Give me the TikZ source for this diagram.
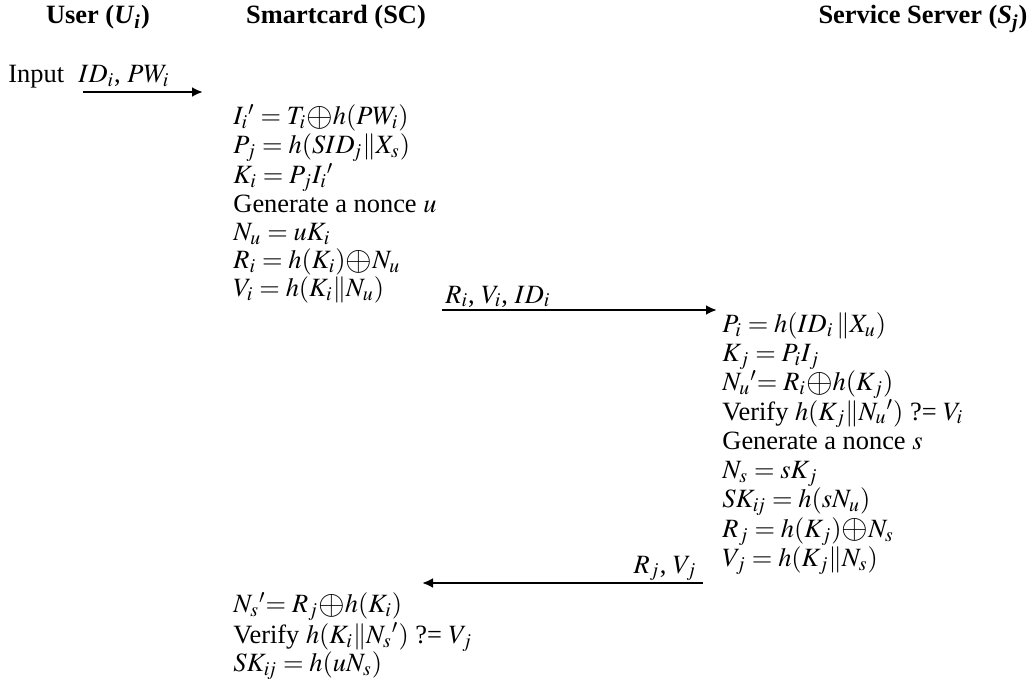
\documentclass[tikz,border=0pt]{standalone}
\usepackage{mathptmx}
\usepackage[no-math]{fontspec}
\setmainfont{Liberation Serif}
\usetikzlibrary{arrows.meta}

\newcommand{\xorop}{\mathord{\raisebox{-0.12ex}{\scalebox{1.3}{$\oplus$}}}}

\tikzset{
  msg/.style={draw, line width=1pt, -{Latex[length=5pt,width=4.5pt]}}, % message arrows
  head/.style={anchor=base, font=\fontsize{12}{13}\selectfont\bfseries}, % column titles
  calc/.style={align=left, inner sep=0pt, anchor=north west, font=\fontsize{12}{12.85}\selectfont},
  calc wide/.style={calc, font=\fontsize{12}{13.3}\selectfont},
  msg label/.style={inner sep=0pt, font=\fontsize{12}{13}\selectfont}
}

\begin{document}
\begin{tikzpicture}[x=0.4545pt, y=-0.4545pt]
    \useasboundingbox (0,0) rectangle (1032,679);

    \coordinate (in0) at (83,92);
    \coordinate (in1) at (203,92);
    \coordinate (ri0) at (442,310);
    \coordinate (ri1) at (717,310);
    \coordinate (rj0) at (703,583);
    \coordinate (rj1) at (422,583);

    \node[head] (user) at (98,24) {User (\textit{U}\textsubscript{\textit{i}})};
    \node[head] (card) at (336,24) {Smartcard (SC)};
    \node[head] (server) at (923,24) {Service Server (\textit{S}\textsubscript{\textit{j}})};

    \node[msg label, anchor=base west] (input) at (8,83) {Input};
    \node[msg label, anchor=base west] (inlbl) at (78,83) {$ID_i$, $PW_i$};

    \node[calc] (cardA) at (233,104) {%
      ${I_i}' = T_i\xorop h(PW_i)$\\
      $P_j = h(SID_{\!j}\|X_s)$\\
      $K_i = P_j{I_i}'$\\
      Generate a nonce $u$\\
      $N_u = uK_i$\\
      $R_i = h(K_i)\xorop N_u$\\
      $V_i = h(K_i\|N_u)$};

    \node[msg label, anchor=base west] (rilbl) at (445,303) {$R_i$, $V_i$, $ID_i$};

    \node[calc wide] (srv) at (722,312) {%
      $P_i = h(ID_i\,\|X_u)$\\
      $K_j = P_iI_j$\\
      ${N_u}'{=}\;R_i\xorop h(K_j)$\\
      Verify $h(K_j\|{N_u}')$ ?= $V_i$\\
      Generate a nonce $s$\\
      $N_s = sK_j$\\
      $SK_{i\!j} = h(sN_u)$\\
      $R_j = h(K_j)\xorop N_s$\\
      $V_j = h(K_j\|N_s)$};

    \node[msg label, anchor=base east] (rjlbl) at (697,573) {$R_j$, $V_j$};

    \node[calc] (cardB) at (233,592) {%
      ${N_s}'{=}\;R_j\xorop h(K_i)$\\
      Verify $h(K_i\|{N_s}')$ ?= $V_j$\\
      $SK_{i\!j} = h(uN_s)$};

    \draw[msg] (in0) -- (in1);
    \draw[msg] (ri0) -- (ri1);
    \draw[msg] (rj0) -- (rj1);
\end{tikzpicture}
\end{document}
